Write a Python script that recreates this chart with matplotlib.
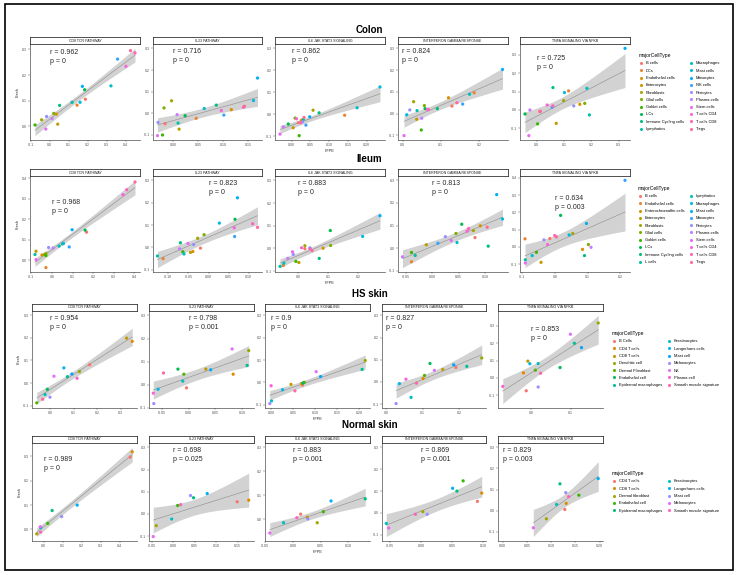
import numpy as np
import matplotlib
matplotlib.use('Agg')
import matplotlib.pyplot as plt
from matplotlib.lines import Line2D
from matplotlib.patches import Rectangle
from matplotlib.ticker import MultipleLocator, FormatStrFormatter

plt.rcParams['font.family'] = ['Liberation Sans', 'DejaVu Sans']
plt.rcParams['axes.unicode_minus'] = False

# ---------------- data ----------------
pathways = ['CD8 TCR PATHWAY', 'IL23 PATHWAY', 'IL6 JAK STAT3 SIGNALING',
            'INTERFERON GAMMA RESPONSE', 'TNFA SIGNALING VIA NFKB']

# Colon
colon_types = ['B cells', 'DCs', 'Endothelial cells', 'Enterocytes', 'Fibroblasts',
               'Glial cells', 'Goblet cells', 'ILCs', 'Immune Cycling cells', 'Lymphatics',
               'Macrophages', 'Mast cells', 'Monocytes', 'NK cells', 'Pericytes',
               'Plasma cells', 'Stem cells', 'T cells CD4', 'T cells CD8', 'Tregs']
colon_cd8_x = [0.188, 0.144, 0.035, 0.042, -0.043, 0.021, -0.078, 0.184, 0.052, 0.118,
               0.323, 0.160, 0.172, 0.358, -0.017, 0.012, -0.021, 0.402, 0.450, 0.426]
colon_cd8_y = [0.106, 0.083, 0.048, 0.009, 0.026, 0.051, 0.006, 0.143, 0.082, 0.094,
               0.158, 0.094, 0.156, 0.262, 0.039, 0.031, -0.010, 0.234, 0.286, 0.295]
colon_il23_x = [-0.016, 0.046, 0.116, 0.012, -0.003, -0.018, -0.021, 0.024, 0.086, 0.010,
                0.062, 0.160, 0.168, 0.101, -0.030, 0.008, -0.031, 0.096, 0.140, 0.142]
colon_il23_y = [-0.048, -0.023, 0.017, -0.073, 0.058, 0.025, -0.100, -0.011, 0.038, -0.045,
                0.022, 0.059, 0.163, -0.008, -0.042, -0.006, -0.103, 0.013, 0.028, 0.033]
colon_il6_x = [0.018, 0.141, 0.026, 0.004, 0.057, 0.009, 0.020, -0.009, 0.073, 0.031,
               0.174, 0.235, 0.048, 0.038, 0.029, -0.022, -0.031, 0.013, 0.024, 0.033]
colon_il6_y = [-0.039, -0.005, -0.028, -0.062, 0.018, -0.018, -0.098, -0.045, 0.006, -0.024,
               0.029, 0.124, -0.012, -0.050, -0.035, -0.058, -0.091, -0.021, -0.039, -0.015]
colon_ifng_x = [0.129, 0.187, 0.120, 0.037, 0.029, 0.057, 0.049, 0.059, 0.091, 0.038,
                0.175, 0.011, 0.261, 0.157, 0.019, 0.050, 0.004, 0.065, 0.068, 0.142]
colon_ifng_y = [0.035, 0.096, 0.073, -0.026, 0.055, 0.037, -0.075, 0.023, 0.023, 0.014,
                0.089, -0.005, 0.203, 0.044, 0.017, -0.021, -0.101, 0.020, 0.018, 0.050]
colon_tnfa_x = [0.012, 0.117, 0.158, 0.072, 0.099, 0.176, 0.004, -0.042, 0.060, 0.193,
                0.184, 0.102, 0.323, 0.057, 0.136, -0.024, -0.028, 0.039, 0.060, 0.014]
colon_tnfa_y = [-0.009, 0.104, 0.031, -0.073, 0.051, 0.036, -0.076, -0.022, 0.122, -0.027,
                0.118, 0.095, 0.336, 0.015, 0.022, 0.000, -0.140, 0.027, 0.022, -0.007]
colon_r = ['0.962', '0.716', '0.862', '0.824', '0.725']
colon_p = ['0', '0', '0', '0', '0']

# Ileum
ileum_types = ['B cells', 'Endothelial cells', 'Enterochromaffin cells', 'Enterocytes',
               'Fibroblasts', 'Glial cells', 'Goblet cells', 'ILCs', 'Immune Cycling cells',
               'L cells', 'Lymphatics', 'Macrophages', 'Mast cells', 'Monocytes', 'Pericytes',
               'Plasma cells', 'Stem cells', 'T cells CD4', 'T cells CD8', 'Tregs']
ileum_cd8_x = [0.168, -0.029, -0.048, -0.077, -0.029, -0.035, -0.029, 0.161, 0.052, -0.082,
               0.035, 0.056, 0.098, 0.084, -0.016, 0.006, -0.077, 0.345, 0.363, 0.403]
ileum_cd8_y = [0.137, -0.036, 0.026, 0.044, 0.033, 0.028, 0.023, 0.147, 0.080, 0.028,
               0.069, 0.082, 0.149, 0.065, 0.062, 0.060, 0.003, 0.320, 0.344, 0.382]
ileum_il23_x = [-0.020, -0.113, -0.039, -0.045, -0.027, -0.011, -0.064, 0.066, -0.070, -0.127,
                -0.061, 0.027, 0.072, 0.065, -0.037, -0.072, -0.051, 0.064, 0.110, 0.122]
ileum_il23_y = [-0.003, -0.050, -0.018, -0.022, 0.041, 0.057, -0.019, 0.126, 0.021, -0.038,
                -0.029, 0.109, 0.222, 0.049, 0.013, -0.006, 0.018, 0.088, 0.106, 0.090]
ileum_il6_x = [0.022, -0.050, 0.083, 0.002, 0.022, 0.108, -0.008, 0.107, 0.070, -0.061,
               -0.048, 0.215, 0.273, 0.039, -0.017, -0.035, -0.019, 0.011, 0.039, 0.046]
ileum_il6_y = [-0.001, -0.075, 0.001, -0.062, 0.012, 0.013, -0.057, 0.079, -0.044, -0.079,
               -0.065, 0.053, 0.144, 0.002, -0.026, -0.044, -0.015, 0.003, -0.001, -0.009]
ileum_ifng_x = [0.081, -0.039, 0.091, -0.011, 0.078, 0.045, -0.039, 0.056, 0.106, -0.032,
                0.047, 0.133, 0.122, 0.011, 0.025, -0.056, 0.036, 0.066, 0.069, 0.104]
ileum_ifng_y = [0.047, -0.060, 0.099, 0.015, 0.078, 0.065, -0.019, 0.106, 0.009, -0.032,
                0.025, 0.129, 0.237, 0.022, 0.051, -0.038, 0.034, 0.075, 0.087, 0.093]
ileum_tnfa_x = [-0.016, -0.092, 0.084, -0.043, 0.054, 0.102, -0.057, 0.017, 0.090, -0.091,
                -0.070, 0.043, 0.096, 0.214, -0.034, 0.110, -0.091, -0.023, -0.001, 0.004]
ileum_tnfa_y = [0.049, 0.047, -0.014, -0.089, 0.078, 0.014, -0.031, 0.183, -0.050, -0.074,
                -0.050, 0.070, 0.136, 0.386, 0.041, -0.002, -0.093, 0.014, 0.066, 0.058]
ileum_r = ['0.968', '0.823', '0.883', '0.813', '0.634']
ileum_p = ['0', '0', '0', '0', '0.003']

# HS skin
hs_types = ['B Cells', 'CD4 T cells', 'CD8 T cells', 'Dendritic cell', 'Dermal Fibroblast',
            'Endothelial cell', 'Epidermal macrophages', 'Keratinocytes', 'Langerhans cells',
            'Mast cell', 'Melanocytes', 'NK', 'Plasma cell', 'Smooth muscle signature']
hs_cd8_x = [0.168, 0.349, 0.325, 0.125, -0.056, -0.011, 0.074, -0.021, 0.059, 0.093,
            0.000, 0.017, 0.115, -0.031]
hs_cd8_y = [0.081, 0.185, 0.199, 0.051, -0.088, -0.028, 0.028, -0.051, 0.067, 0.040,
            -0.063, 0.030, 0.021, -0.072]
hs_il23_x = [-0.004, 0.083, 0.032, 0.112, -0.009, -0.020, 0.109, -0.011, -0.057, 0.041,
             -0.065, 0.081, -0.066, -0.047]
hs_il23_y = [-0.013, 0.046, 0.068, 0.148, 0.046, 0.068, 0.084, 0.016, -0.019, 0.065,
             -0.081, 0.155, -0.036, 0.051]
hs_il6_x = [0.071, 0.069, 0.045, 0.213, 0.075, 0.072, 0.206, 0.001, 0.026, 0.112,
            -0.003, 0.102, 0.000, 0.054]
hs_il6_y = [-0.012, -0.006, -0.009, 0.098, 0.000, -0.003, 0.058, -0.083, -0.033, 0.026,
            -0.095, 0.048, -0.015, -0.038]
hs_ifng_x = [0.191, 0.101, 0.155, 0.262, 0.105, 0.120, 0.221, 0.068, 0.036, 0.185,
             0.027, 0.132, 0.054, 0.083]
hs_ifng_y = [0.065, 0.015, 0.056, 0.108, 0.029, 0.083, 0.070, -0.070, -0.008, 0.077,
             -0.098, 0.052, 0.012, -0.006]
hs_tnfa_x = [-0.012, -0.019, -0.008, 0.169, 0.011, 0.073, 0.109, 0.018, -0.003, 0.127,
             0.018, 0.099, -0.071, 0.024]
hs_tnfa_y = [-0.074, 0.029, 0.097, 0.317, 0.045, 0.060, 0.200, 0.083, 0.082, 0.175,
             -0.052, 0.252, -0.049, 0.027]
hs_r = ['0.954', '0.798', '0.9', '0.827', '0.853']
hs_p = ['0', '0.001', '0', '0', '0']

# Normal skin
normal_types = ['CD4 T cells', 'CD8 T cells', 'Dermal fibroblast', 'Endothelial cell',
                'Epidermal macrophages', 'Keratinocytes', 'Langerhans cells', 'Mast cell',
                'Melanocytes', 'Smooth muscle signature']
normal_cd8_x = [0.455, 0.466, -0.037, 0.021, 0.044, -0.016, 0.176, 0.094, -0.019, -0.017]
normal_cd8_y = [0.297, 0.319, -0.018, 0.025, 0.078, 0.007, 0.100, 0.053, 0.011, -0.011]
normal_il23_x = [0.149, 0.176, -0.040, 0.010, 0.047, -0.004, 0.079, 0.040, -0.047, 0.017]
normal_il23_y = [0.055, 0.062, -0.053, 0.038, 0.073, -0.023, 0.092, 0.083, -0.102, 0.042]
normal_il6_x = [0.014, 0.026, 0.044, 0.055, 0.131, -0.017, 0.069, 0.027, -0.042, 0.007]
normal_il6_y = [0.021, 0.008, -0.015, 0.031, 0.085, -0.015, 0.076, 0.001, -0.058, 0.006]
normal_ifng_x = [0.091, 0.098, 0.003, 0.068, 0.058, -0.056, 0.051, 0.010, -0.052, -0.009]
normal_ifng_y = [0.053, 0.091, 0.006, 0.147, 0.100, -0.048, 0.113, -0.006, -0.069, -0.006]
normal_tnfa_x = [0.128, 0.131, 0.090, 0.157, 0.118, 0.111, 0.197, 0.130, 0.063, 0.136]
normal_tnfa_y = [0.005, 0.034, -0.039, 0.073, 0.127, 0.029, 0.152, 0.085, -0.082, 0.066]
normal_r = ['0.989', '0.698', '0.883', '0.869', '0.829']
normal_p = ['0', '0.025', '0.001', '0.001', '0.003']

# x tick spacing per panel
colon_xstep = [0.1, 0.05, 0.05, 0.1, 0.1]
ileum_xstep = [0.1, 0.05, 0.1, 0.05, 0.1]
hs_xstep = [0.1, 0.05, 0.05, 0.1, 0.1]
normal_xstep = [0.1, 0.05, 0.05, 0.05, 0.05]


# ggplot2 default hue palette (hcl, l=65, c=100)
def hue_pal(n):
    hues = np.linspace(15, 375, n + 1)[:n]
    L, C = 65.0, 100.0
    Xn, Yn, Zn = 95.047, 100.0, 108.883
    den = Xn + 15 * Yn + 3 * Zn
    un, vn = 4 * Xn / den, 9 * Yn / den
    M = np.array([[3.240479, -1.537150, -0.498535],
                  [-0.969256, 1.875992, 0.041556],
                  [0.055648, -0.204043, 1.057311]])
    cols = []
    for h in hues:
        hr = np.deg2rad(h)
        U, V = C * np.cos(hr), C * np.sin(hr)
        Y = Yn * ((L + 16) / 116) ** 3
        u = U / (13 * L) + un
        v = V / (13 * L) + vn
        X = 9 * Y * u / (4 * v)
        Z = -X / 3 - 5 * Y + 3 * Y / v
        lin = M @ np.array([X, Y, Z]) / 100
        rgb = np.where(lin > 0.0031308, 1.055 * np.abs(lin) ** (1 / 2.4) - 0.055, 12.92 * lin)
        cols.append(tuple(np.clip(rgb, 0, 1)))
    return cols


def t975(df):
    z = 1.959964
    return z + (z**3 + z) / (4 * df) + (5 * z**5 + 16 * z**3 + 3 * z) / (96 * df**2)


W, H = 739, 575
fig = plt.figure(figsize=(W / 100, H / 100), dpi=100)


def box(l, t, w, h):
    return [l / W, 1 - (t + h) / H, w / W, h / H]


def draw_panel(ax, x, y, cols, r, p, xstep):
    x = np.asarray(x)
    y = np.asarray(y)
    n = len(x)
    b, a = np.polyfit(x, y, 1)
    xs = np.linspace(x.min(), x.max(), 80)
    fit = a + b * xs
    s = np.sqrt(np.sum((y - (a + b * x)) ** 2) / (n - 2))
    sxx = np.sum((x - x.mean()) ** 2)
    se = s * np.sqrt(1 / n + (xs - x.mean()) ** 2 / sxx)
    lo, hi = fit - t975(n - 2) * se, fit + t975(n - 2) * se
    ax.fill_between(xs, lo, hi, color='0.58', alpha=0.42, lw=0)
    ax.plot(xs, fit, color='0.55', lw=0.4)
    ax.scatter(x, y, c=cols, s=5.5, lw=0, zorder=3)
    ax.text(0, 0.3, 'r = %s\np = %s' % (r, p), ha='left', va='top', fontsize=5,
            linespacing=1.35, color='0.15')
    x0, x1 = min(x.min(), 0), max(x.max(), 0)
    y0, y1 = min(y.min(), lo.min()), max(y.max(), hi.max(), 0.3)
    ax.set_xlim(x0 - 0.05 * (x1 - x0), x1 + 0.05 * (x1 - x0))
    ax.set_ylim(y0 - 0.05 * (y1 - y0), y1 + 0.05 * (y1 - y0))
    ax.xaxis.set_major_locator(MultipleLocator(xstep))
    ax.xaxis.set_major_formatter(FormatStrFormatter('%.1f' if xstep >= 0.1 else '%.2f'))
    ax.yaxis.set_major_locator(MultipleLocator(0.1))
    ax.yaxis.set_major_formatter(FormatStrFormatter('%.1f'))
    for sp in ['top', 'right']:
        ax.spines[sp].set_visible(False)
    for sp in ['left', 'bottom']:
        ax.spines[sp].set_linewidth(0.5)
        ax.spines[sp].set_color('0.3')
    ax.tick_params(labelsize=2.5, length=1.2, width=0.3, pad=0.8, colors='0.3')


rows = [
    ('Colon', colon_types, [(colon_cd8_x, colon_cd8_y), (colon_il23_x, colon_il23_y),
                            (colon_il6_x, colon_il6_y), (colon_ifng_x, colon_ifng_y),
                            (colon_tnfa_x, colon_tnfa_y)], colon_r, colon_p, colon_xstep,
     44, 140, [30, 152.5, 275, 397.5, 520], 110, 30, (637, 51)),
    ('Ileum', ileum_types, [(ileum_cd8_x, ileum_cd8_y), (ileum_il23_x, ileum_il23_y),
                            (ileum_il6_x, ileum_il6_y), (ileum_ifng_x, ileum_ifng_y),
                            (ileum_tnfa_x, ileum_tnfa_y)], ileum_r, ileum_p, ileum_xstep,
     176, 272, [30, 152.5, 275, 397.5, 520], 110, 159, (636, 184)),
    ('HS skin', hs_types, [(hs_cd8_x, hs_cd8_y), (hs_il23_x, hs_il23_y),
                           (hs_il6_x, hs_il6_y), (hs_ifng_x, hs_ifng_y),
                           (hs_tnfa_x, hs_tnfa_y)], hs_r, hs_p, hs_xstep,
     311, 408, [32, 148.5, 265, 381.5, 498], 105, 294, (610, 329)),
    ('Normal skin', normal_types, [(normal_cd8_x, normal_cd8_y), (normal_il23_x, normal_il23_y),
                                   (normal_il6_x, normal_il6_y), (normal_ifng_x, normal_ifng_y),
                                   (normal_tnfa_x, normal_tnfa_y)], normal_r, normal_p, normal_xstep,
     443, 541, [32, 148.5, 265, 381.5, 498], 105, 425, (610, 469)),
]

for name, types, panels, rs, ps, xsteps, top, bottom, lefts, width, ty, (lx, ly) in rows:
    cols = hue_pal(len(types))
    for i, (px, py) in enumerate(panels):
        ax = fig.add_axes(box(lefts[i], top, width, bottom - top))
        draw_panel(ax, px, py, cols, rs[i], ps[i], xsteps[i])
        if i == 0:
            ax.set_ylabel('Fresh', fontsize=2.8, labelpad=2, color='0.15')
        if i == 2:
            ax.set_xlabel('FFPE', fontsize=2.8, labelpad=1.5, color='0.15')
        # facet strip
        sax = fig.add_axes(box(lefts[i], top - 7, width, 7))
        sax.set_xticks([])
        sax.set_yticks([])
        for sp in sax.spines.values():
            sp.set_linewidth(0.6)
            sp.set_color('0.2')
        sax.text(0.5, 0.5, pathways[i], ha='center', va='center', fontsize=2.6,
                 transform=sax.transAxes, color='0.1')
    fig.text(369.5 / W, 1 - ty / H, name, ha='center', va='center', fontsize=7,
             fontweight='bold')
    handles = [Line2D([], [], ls='', marker='o', ms=2.2, mec='none', mfc=c) for c in cols]
    fig.legend(handles, types, loc='upper left', bbox_to_anchor=(lx / W, 1 - ly / H),
               ncol=2, frameon=False, fontsize=2.9, title='majorCellType',
               title_fontsize=3.6, handlelength=1.0, handletextpad=0.7,
               labelspacing=0.82, columnspacing=1.2, borderpad=0, alignment='left')

fig.add_artist(Rectangle((5 / W, 1 - 570 / H), 728 / W, 566 / H, transform=fig.transFigure,
                         fill=False, lw=1.2, ec='black'))

fig.savefig('out.png', dpi=100)
